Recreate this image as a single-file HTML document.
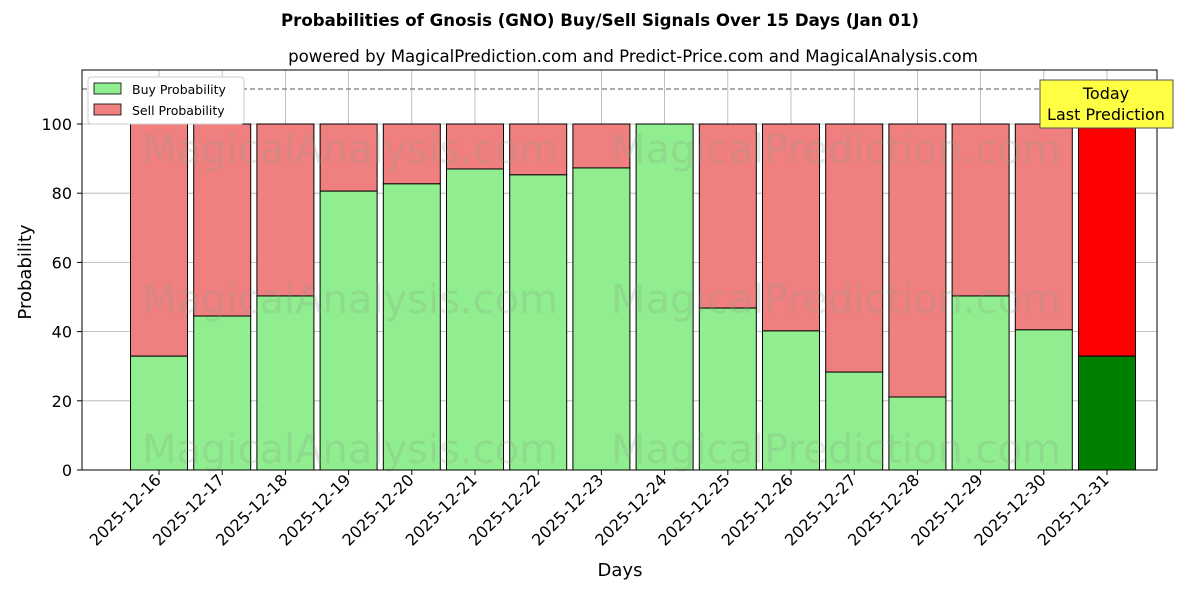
<!DOCTYPE html>
<html><head><meta charset="utf-8"><style>
body{margin:0;background:#fff;}
svg text{font-family:"DejaVu Sans","Liberation Sans",sans-serif;}
</style></head><body>
<svg id="chart" width="1200" height="600" xmlns="http://www.w3.org/2000/svg">
<text x="600" y="26" text-anchor="middle" font-size="16.6" font-weight="bold">Probabilities of Gnosis (GNO) Buy/Sell Signals Over 15 Days (Jan 01)</text>
<text x="633" y="62" text-anchor="middle" font-size="16.6">powered by MagicalPrediction.com and Predict-Price.com and MagicalAnalysis.com</text>
<g id="grid"></g>
<g id="bars"></g>
<g id="wm" fill="#8a9a8a" fill-opacity="0.22" font-size="40">
<text x="350" y="163" text-anchor="middle">MagicalAnalysis.com</text>
<text x="836" y="163" text-anchor="middle">MagicalPrediction.com</text>
<text x="350" y="313" text-anchor="middle">MagicalAnalysis.com</text>
<text x="836" y="313" text-anchor="middle">MagicalPrediction.com</text>
<text x="350" y="463" text-anchor="middle">MagicalAnalysis.com</text>
<text x="836" y="463" text-anchor="middle">MagicalPrediction.com</text>
</g>
<line x1="82" x2="1157" y1="89" y2="89" stroke="#777" stroke-dasharray="5,3" stroke-width="1.2"/>
<rect x="82" y="70" width="1075" height="400" fill="none" stroke="#000" stroke-width="1"/>
<g id="axes"></g>
<text x="620" y="576" text-anchor="middle" font-size="18">Days</text>
<text x="31" y="272" text-anchor="middle" font-size="18" transform="rotate(-90 31 272)">Probability</text>
<g>
<rect x="88" y="77" width="156" height="47" fill="#fff" stroke="#ccc" rx="3"/>
<rect x="94" y="83" width="27" height="11" fill="#90ee90" stroke="#000" stroke-width="0.8"/>
<text x="132" y="94" font-size="12.5">Buy Probability</text>
<rect x="94" y="104" width="27" height="11" fill="#f08080" stroke="#000" stroke-width="0.8"/>
<text x="132" y="115" font-size="12.5">Sell Probability</text>
</g>
<g>
<rect x="1040" y="80" width="133" height="48" fill="#ffff44" stroke="#555"/>
<text x="1106" y="99" text-anchor="middle" font-size="16">Today</text>
<text x="1106" y="120" text-anchor="middle" font-size="16">Last Prediction</text>
</g>
</svg>
<script>
const days=["2025-12-16","2025-12-17","2025-12-18","2025-12-19","2025-12-20","2025-12-21","2025-12-22","2025-12-23","2025-12-24","2025-12-25","2025-12-26","2025-12-27","2025-12-28","2025-12-29","2025-12-30","2025-12-31"];
const buyValues=[32.9,44.5,50.3,80.6,82.7,87,85.3,87.3,100,46.8,40.2,28.3,21.1,50.3,40.5,32.9];
const yTicks=[0,20,40,60,80,100];
const NS="http://www.w3.org/2000/svg";
const xS=i=>159+63.2*i;
const yS=v=>470-3.46*v;
const bw=57;
function mk(tag,attrs,parent){const e=document.createElementNS(NS,tag);for(const k in attrs)e.setAttribute(k,attrs[k]);parent.appendChild(e);return e;}
const grid=document.getElementById('grid'),bars=document.getElementById('bars'),axes=document.getElementById('axes');
yTicks.forEach(t=>{
  const g=mk('line',{x1:82,x2:1157,y1:yS(t),y2:yS(t),stroke:'#b0b0b0','stroke-width':0.8},grid);
  
  
  mk('line',{x1:77,x2:82,y1:yS(t),y2:yS(t),stroke:'#000'},axes);
  const tx=mk('text',{x:72,y:yS(t)+6,'text-anchor':'end','font-size':16},axes);
  tx.textContent=t;
  
  
});
days.forEach((d,i)=>{
  const x=xS(i);
  const gl=mk('line',{x1:x,x2:x,y1:70,y2:470,stroke:'#b0b0b0','stroke-width':0.8},grid);
  
  
  const last=i===days.length-1;
  const b=buyValues[i];
  const sell=mk('rect',{x:x-bw/2,y:yS(100),width:bw,height:yS(b)-yS(100),fill:last?'#ff0000':'#f08080',stroke:'#000','stroke-width':1},bars);
  
  
  const buy=mk('rect',{x:x-bw/2,y:yS(b),width:bw,height:yS(0)-yS(b),fill:last?'#008000':'#90ee90',stroke:'#000','stroke-width':1},bars);
  
  
  mk('line',{x1:x,x2:x,y1:470,y2:475,stroke:'#000'},axes);
  const tx=mk('text',{x:x+3,y:481,'text-anchor':'end','font-size':16,transform:`rotate(-45 ${x+3} 481)`},axes);
  tx.textContent=d;
  
  
});
</script>
</body></html>
